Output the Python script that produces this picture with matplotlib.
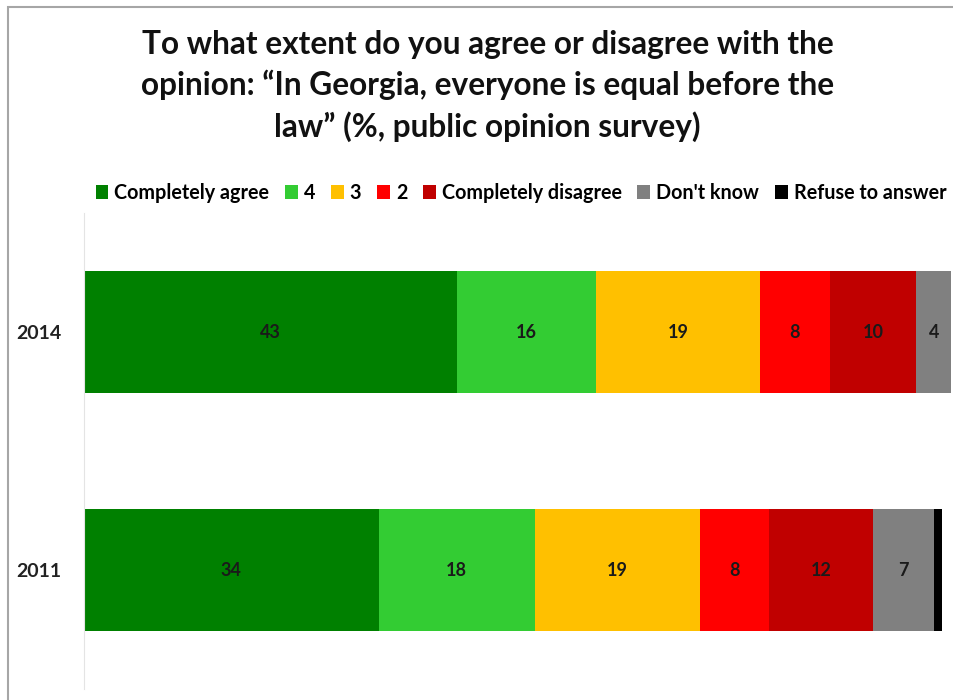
import matplotlib.pyplot as plt
from matplotlib.patches import Rectangle

plt.rcParams['font.family'] = ['Lato', 'DejaVu Sans']

years = ['2011', '2014']
categories = ['Completely agree', '4', '3', '2', 'Completely disagree',
              "Don't know", 'Refuse to answer']
values = {
    '2011': [34, 18, 19, 8, 12, 7, 1],
    '2014': [43, 16, 19, 8, 10, 4, 0],
}
colors = ['#008000', '#33cc33', '#ffc000', '#ff0000', '#c00000',
          '#808080', '#000000']

fig = plt.figure(figsize=(9.54, 7), dpi=100)
ax = fig.add_axes([84 / 954, 11 / 700, 867 / 954, 476 / 700])

for i, year in enumerate(years):
    left = 0
    for j, (cat, v) in enumerate(zip(categories, values[year])):
        ax.barh(i, v, left=left, height=0.51, color=colors[j],
                label=cat if i == 0 else None)
        if v >= 3:
            ax.text(left + v / 2, i, str(v), ha='center', va='center',
                    fontsize=13, fontweight='bold', color='#1a1a1a')
        left += v

ax.set_xlim(0, 100)
ax.set_ylim(-0.5, 1.5)
ax.set_yticks(range(len(years)))
ax.set_yticklabels(years, fontsize=14, fontweight='bold', color='#222222')
ax.tick_params(axis='y', length=0, pad=16)
ax.set_xticks([])
for side in ['top', 'right', 'bottom']:
    ax.spines[side].set_visible(False)
ax.spines['left'].set_color('#e4e4e4')

fig.legend(loc='center', bbox_to_anchor=(0.546, 1 - 193 / 700),
           ncol=7, frameon=False, handlelength=0.65, handleheight=0.65,
           handletextpad=0.3, columnspacing=0.8,
           prop={'size': 14.2, 'weight': 'bold'})

fig.text(0.511, 1 - 86 / 700,
         'To what extent do you agree or disagree with the\n'
         'opinion: \u201cIn Georgia, everyone is equal before the\n'
         'law\u201d (%, public opinion survey)',
         ha='center', va='center', fontsize=22.8, fontweight='bold',
         linespacing=1.42, color='#111111')

# light frame around the chart area
fig.patches.append(Rectangle((8 / 954, -0.01), 1.0, 1 - 7 / 700 + 0.01,
                             transform=fig.transFigure, fill=False,
                             edgecolor='#a6a6a6', linewidth=1.5))

fig.savefig('out.png', dpi=100)
